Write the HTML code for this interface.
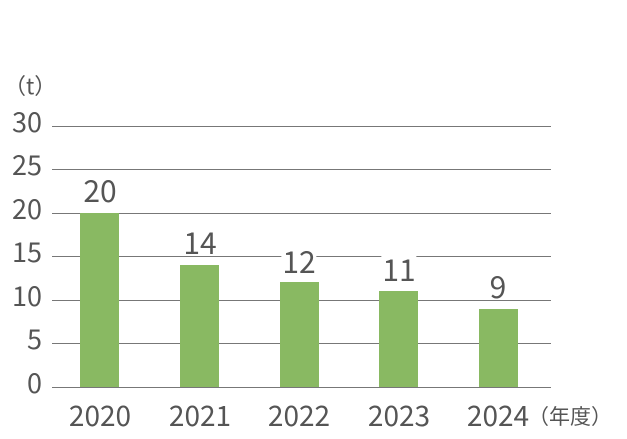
<!DOCTYPE html><html><head><style>
body{margin:0;width:627px;height:439px;background:#fff;font-family:"Noto Sans CJK JP","Liberation Sans",sans-serif;color:#555;position:relative;overflow:hidden}
.g{position:absolute;left:52px;width:499px;height:1px;background:#777}
.y{position:absolute;right:585px;font-size:27px;line-height:27px}
.b{position:absolute;width:39px;background:#89b962;bottom:52px}
.v{position:absolute;font-size:30px;line-height:30px;background:#fff;padding:0 1px;transform:translateX(-50%)}
.x{position:absolute;top:401px;font-size:28px;line-height:28px;transform:translateX(-50%)}
</style></head><body>
<div style="position:absolute;left:4px;top:72px;font-size:22px;line-height:26px">（t）</div>
<div class="g" style="top:126px"></div><div class="g" style="top:169px"></div><div class="g" style="top:213px"></div><div class="g" style="top:256px"></div><div class="g" style="top:300px"></div><div class="g" style="top:343px"></div><div class="g" style="top:387px"></div>
<div class="y" style="top:107px">30</div><div class="y" style="top:150px">25</div><div class="y" style="top:194px">20</div><div class="y" style="top:237px">15</div><div class="y" style="top:281px">10</div><div class="y" style="top:324px">5</div><div class="y" style="top:368px">0</div>
<div class="b" style="left:80px;top:213px"></div>
<div class="b" style="left:180px;top:265px"></div>
<div class="b" style="left:280px;top:282px"></div>
<div class="b" style="left:379px;top:291px"></div>
<div class="b" style="left:479px;top:309px"></div>
<div class="v" style="left:100px;top:174px">20</div>
<div class="v" style="left:200px;top:226px">14</div>
<div class="v" style="left:299px;top:245px">12</div>
<div class="v" style="left:399px;top:253px">11</div>
<div class="v" style="left:498px;top:270px">9</div>
<div class="x" style="left:100px">2020</div><div class="x" style="left:200px">2021</div><div class="x" style="left:299px">2022</div><div class="x" style="left:399px">2023</div><div class="x" style="left:498px">2024</div>
<div style="position:absolute;left:528px;top:403px;font-size:21px;line-height:26px">（年度）</div>
</body></html>
